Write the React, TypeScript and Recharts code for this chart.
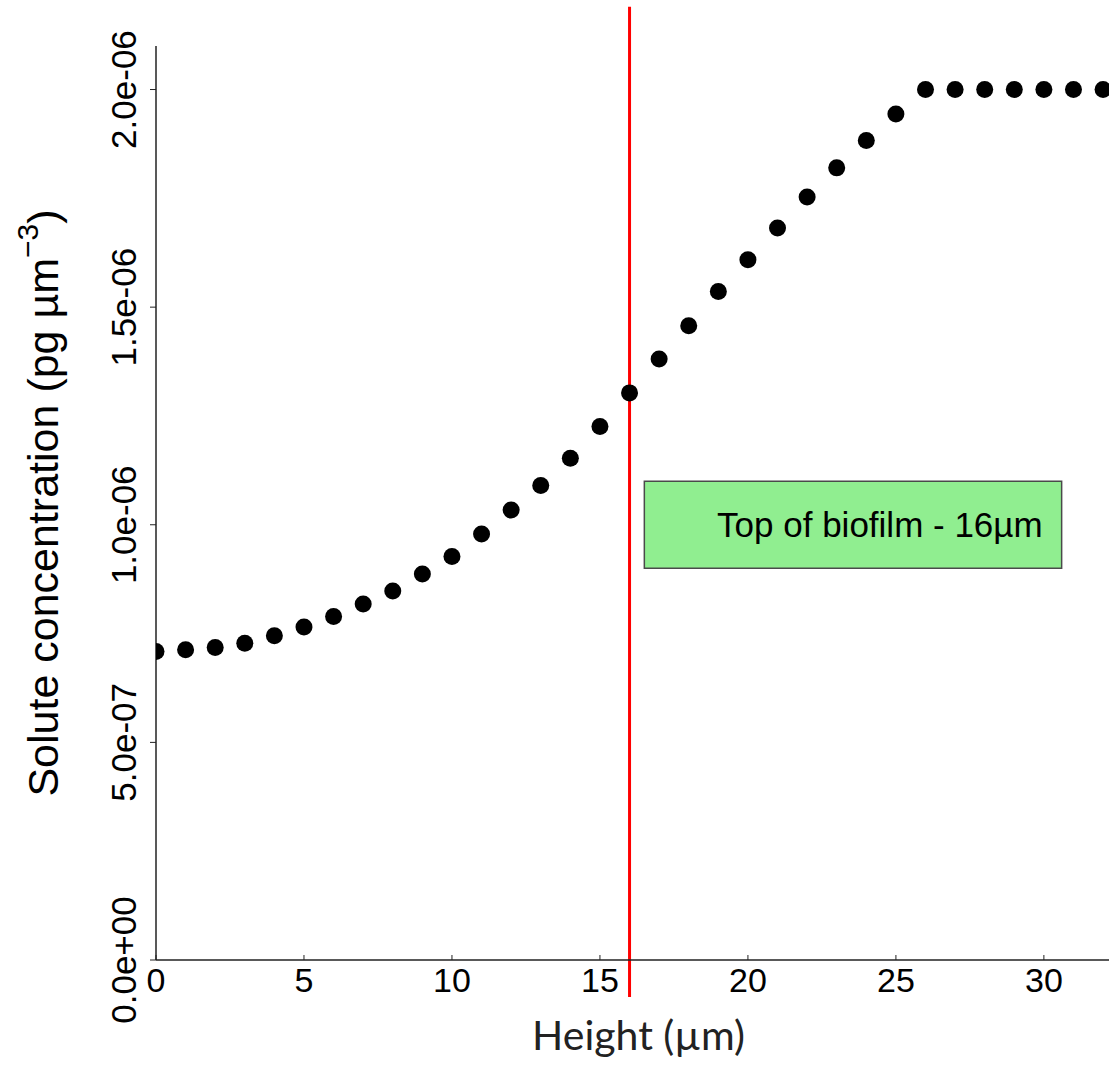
import { ScatterChart, Scatter, XAxis, YAxis, ReferenceLine, ReferenceArea } from 'recharts';

// Solute concentration profile through the biofilm, one reading per micron of height
const heights = [0, 1, 2, 3, 4, 5, 6, 7, 8, 9, 10, 11, 12, 13, 14, 15, 16, 17, 18, 19, 20, 21, 22, 23, 24, 25, 26, 27, 28, 29, 30, 31, 32];
const concentrations = [
  0.709e-6, 0.713e-6, 0.718e-6, 0.728e-6, 0.745e-6, 0.765e-6, 0.789e-6, 0.818e-6, 0.848e-6, 0.887e-6,
  0.927e-6, 0.979e-6, 1.034e-6, 1.09e-6, 1.153e-6, 1.226e-6, 1.303e-6, 1.381e-6, 1.457e-6, 1.536e-6,
  1.609e-6, 1.682e-6, 1.753e-6, 1.82e-6, 1.883e-6, 1.944e-6, 2.0e-6, 2.0e-6, 2.0e-6, 2.0e-6,
  2.0e-6, 2.0e-6, 2.0e-6,
];

const xTicks = [0, 5, 10, 15, 20, 25, 30];
const yTicks = [0, 5e-7, 1e-6, 1.5e-6, 2e-6];
const yTickLabels = ['0.0e+00', '5.0e-07', '1.0e-06', '1.5e-06', '2.0e-06'];

const biofilmTop = 16;
const biofilmLabel = 'Top of biofilm - 16µm';
// annotation box extent, in data units
const boxX = [16.5, 30.6];
const boxY = [0.9e-6, 1.1e-6];

const data = heights.map((h, i) => ({ height: h, conc: concentrations[i] }));

const AXIS = '#222';
const ARIAL = '"Liberation Sans", Arial, sans-serif';

function XTick({ x, y, payload }: any) {
  return (
    <g>
      <line x1={x} y1={y} x2={x} y2={y - 5} stroke={AXIS} strokeWidth={1} />
      <text x={x} y={y + 32} textAnchor="middle" fontFamily={ARIAL} fontSize={34} fill="#000">
        {payload.value}
      </text>
    </g>
  );
}

function YTick({ x, y, payload }: any) {
  const idx = yTicks.indexOf(payload.value);
  const tx = x - 20;
  return (
    <g>
      <line x1={x - 6} y1={y} x2={x} y2={y} stroke={AXIS} strokeWidth={1} />
      <text
        x={tx}
        y={y}
        transform={`rotate(-90, ${tx}, ${y})`}
        textAnchor="middle"
        fontFamily={ARIAL}
        fontSize={35}
        fill="#000"
      >
        {idx >= 0 ? yTickLabels[idx] : ''}
      </text>
    </g>
  );
}

const renderYTitle = (props: any) => {
  const vb = props.viewBox || { x: 0, y: 46, width: 156, height: 914 };
  const cx = vb.x + 58;
  const cy = vb.y + vb.height / 2;
  return (
    <text
      x={cx}
      y={cy}
      transform={`rotate(-90, ${cx}, ${cy})`}
      textAnchor="middle"
      fontFamily={ARIAL}
      fontSize={43}
      fill="#000"
    >
      Solute concentration (pg µm
      <tspan dy={-20} fontSize={30}>−3</tspan>
      <tspan dy={20}>)</tspan>
    </text>
  );
};

const renderXTitle = (props: any) => {
  const vb = props.viewBox || { x: 156, y: 960, width: 953, height: 106 };
  return (
    <text
      x={vb.x + vb.width / 2 + 6}
      y={vb.y + 90}
      textAnchor="middle"
      fontFamily="Lato, 'Open Sans', sans-serif"
      fontSize={41}
      fill="#222"
    >
      Height (µm)
    </text>
  );
};

const renderBoxLabel = (props: any) => {
  const vb = props.viewBox;
  if (!vb) return null;
  return (
    <text
      x={vb.x + vb.width - 19}
      y={vb.y + vb.height / 2}
      textAnchor="end"
      dominantBaseline="central"
      fontFamily={ARIAL}
      fontSize={35}
      fill="#000"
    >
      {biofilmLabel}
    </text>
  );
};

export default function App() {
  return (
    <div style={{ position: 'absolute', left: 0, top: 0, width: 1109, height: 1066, background: '#fff' }}>
      <ScatterChart width={1109} height={1066} margin={{ top: 46, right: 0, bottom: 0, left: 0 }}>
        <XAxis
          type="number"
          dataKey="height"
          domain={[0, 32.2]}
          ticks={xTicks}
          height={106}
          tick={<XTick />}
          tickLine={false}
          tickSize={0}
          tickMargin={0}
          axisLine={{ stroke: AXIS, strokeWidth: 1.5 }}
          label={{ content: renderXTitle }}
          allowDataOverflow
        />
        <YAxis
          type="number"
          dataKey="conc"
          domain={[0, 2.1e-6]}
          ticks={yTicks}
          width={156}
          tick={<YTick />}
          tickLine={false}
          tickSize={0}
          tickMargin={0}
          axisLine={{ stroke: AXIS, strokeWidth: 1.5 }}
          label={{ content: renderYTitle }}
          allowDataOverflow
        />
        <ReferenceArea
          x1={boxX[0]}
          x2={boxX[1]}
          y1={boxY[0]}
          y2={boxY[1]}
          fill="#90EE90"
          fillOpacity={1}
          stroke="#4a4a4a"
          strokeWidth={1.5}
          ifOverflow="visible"
          label={{ content: renderBoxLabel }}
        />
        <Scatter
          data={data}
          fill="#000"
          isAnimationActive={false}
          shape={(p: any) => <circle cx={p.cx} cy={p.cy} r={8.5} fill="#000" />}
        />
        <ReferenceLine
          segment={[
            { x: biofilmTop, y: -0.085e-6 },
            { x: biofilmTop, y: 2.19e-6 },
          ]}
          stroke="#ff0000"
          strokeWidth={3}
          ifOverflow="visible"
        />
      </ScatterChart>
    </div>
  );
}
